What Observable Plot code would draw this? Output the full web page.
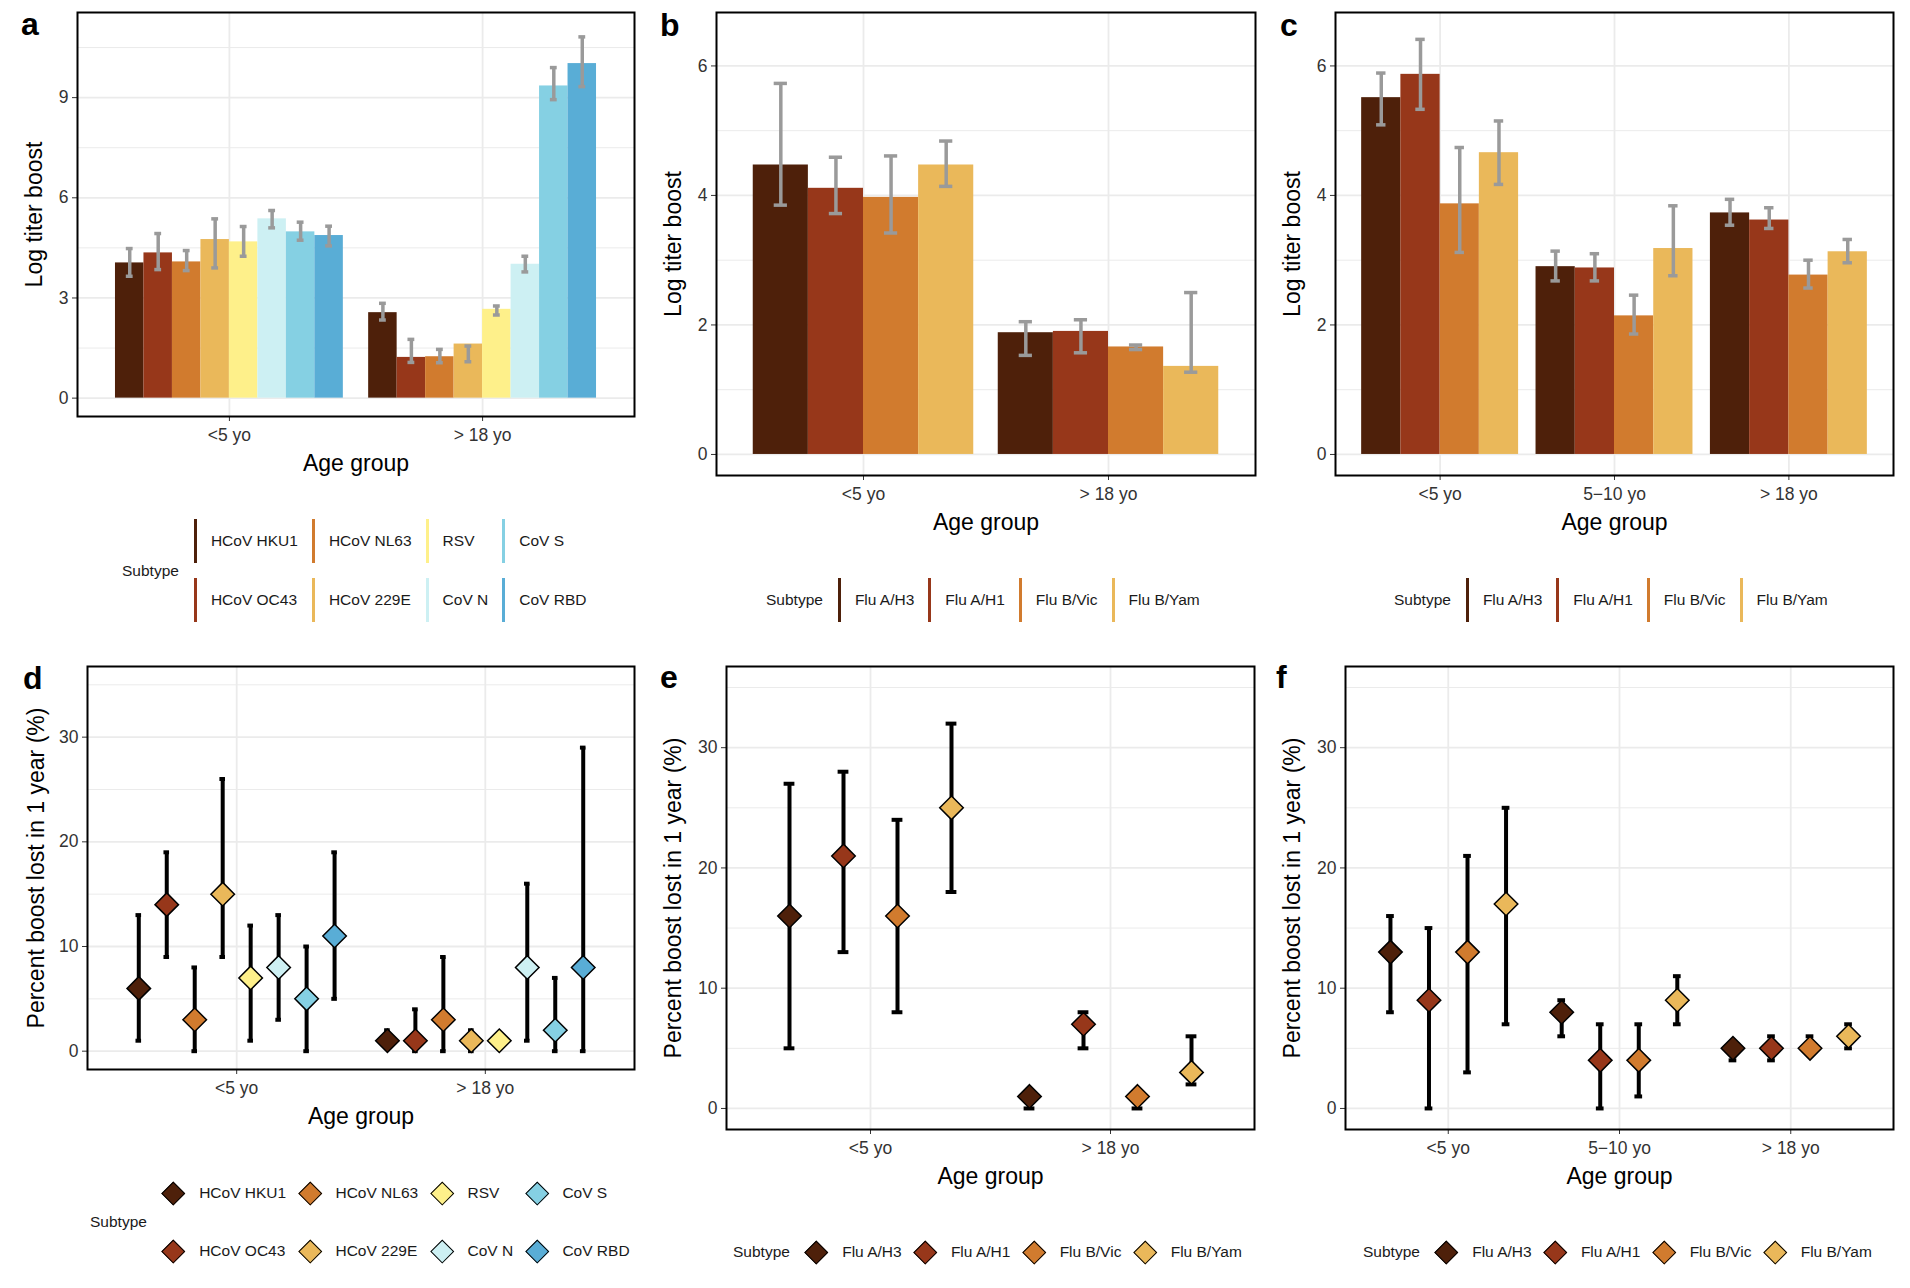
<!DOCTYPE html>
<html><head><meta charset="utf-8">
<script src="https://cdn.jsdelivr.net/npm/d3@7"></script>
<script src="https://cdn.jsdelivr.net/npm/@observablehq/plot@0.6"></script>
<style>
html,body{margin:0;padding:0;background:#fff;}
#root{position:relative;width:1910px;height:1288px;background:#fff;font-family:"Liberation Sans",Arial,Helvetica,sans-serif;color:#000;overflow:hidden;}
.pl{position:absolute;}
.letter{position:absolute;font-weight:bold;font-size:32px;line-height:1;}
.legend{position:absolute;display:flex;align-items:center;font-size:15.5px;color:#1a1a1a;white-space:nowrap;}
.legend .ttl{margin-right:15px;}
.legend .grid{display:grid;grid-auto-flow:column;}
.legend .item{display:flex;align-items:center;height:44px;}
.legend .line{width:3px;height:44px;}
.legend .dia{width:16.5px;height:16.5px;transform:rotate(45deg);border:1.5px solid #000;box-sizing:border-box;margin:0 3.4px;}
</style></head><body><div id="root"></div>
<script>
// ---------- categories ----------
const ageTwo = ["<5 yo", "> 18 yo"];
const ageThree = ["<5 yo", "5\u221210 yo", "> 18 yo"];
const covSubtypes = ["HCoV HKU1", "HCoV OC43", "HCoV NL63", "HCoV 229E", "RSV", "CoV N", "CoV S", "CoV RBD"];
const covColors = ["#4E200A", "#97371A", "#D17B2E", "#EAB85A", "#FEF08A", "#CDF0F3", "#85D0E3", "#59ADD6"];
const fluSubtypes = ["Flu A/H3", "Flu A/H1", "Flu B/Vic", "Flu B/Yam"];
const fluColors = ["#4E200A", "#97371A", "#D17B2E", "#EAB85A"];

// ---------- panel a: log titer boost, coronaviruses/RSV (age group x subtype) ----------
const aMean = [4.05, 4.35, 4.08, 4.75, 4.68, 5.37, 4.98, 4.87,  2.56, 1.22, 1.24, 1.62, 2.66, 4.01, 9.35, 10.02];
const aLow  = [3.65, 3.85, 3.82, 3.90, 4.25, 5.10, 4.73, 4.56,  2.34, 1.07, 1.06, 1.09, 2.49, 3.78, 8.94, 9.33];
const aHigh = [4.48, 4.93, 4.42, 5.37, 5.14, 5.62, 5.27, 5.15,  2.84, 1.76, 1.46, 1.56, 2.76, 4.25, 9.90, 10.82];
// ---------- panel b: log titer boost, influenza ----------
const bMean = [4.47, 4.11, 3.97, 4.47,  1.88, 1.90, 1.66, 1.36];
const bLow  = [3.85, 3.72, 3.42, 4.14,  1.53, 1.57, 1.62, 1.27];
const bHigh = [5.73, 4.59, 4.61, 4.84,  2.05, 2.08, 1.69, 2.50];
// ---------- panel c: log titer boost, influenza, three age groups ----------
const cMean = [5.51, 5.87, 3.87, 4.66,  2.90, 2.88, 2.14, 3.18,  3.73, 3.62, 2.77, 3.13];
const cLow  = [5.09, 5.33, 3.12, 4.17,  2.68, 2.68, 1.86, 2.76,  3.54, 3.49, 2.57, 2.96];
const cHigh = [5.89, 6.41, 4.74, 5.15,  3.14, 3.10, 2.46, 3.84,  3.94, 3.81, 3.00, 3.32];
// ---------- panel d: percent boost lost in 1 year, coronaviruses/RSV ----------
const dMean = [6, 14, 3, 15, 7, 8, 5, 11,  1, 1, 3, 1, 1, 8, 2, 8];
const dLow  = [1, 9, 0, 9, 1, 3, 0, 5,  1, 0, 0, 0, 1, 1, 0, 0];
const dHigh = [13, 19, 8, 26, 12, 13, 10, 19,  2, 4, 9, 2, 1, 16, 7, 29];
// ---------- panel e: percent boost lost, influenza ----------
const eMean = [16, 21, 16, 25,  1, 7, 1, 3];
const eLow  = [5, 13, 8, 18,  0, 5, 0, 2];
const eHigh = [27, 28, 24, 32,  1, 8, 1, 6];
// ---------- panel f: percent boost lost, influenza, three age groups ----------
const fMean = [13, 9, 13, 17,  8, 4, 4, 9,  5, 5, 5, 6];
const fLow  = [8, 0, 3, 7,  6, 0, 1, 7,  4, 4, 5, 5];
const fHigh = [16, 15, 21, 25,  9, 7, 7, 11,  5, 6, 6, 7];

// ---------- axis tick values ----------
const titerTicksA = [0, 3, 6, 9];
const titerMinorA = [1.5, 4.5, 7.5, 10.5];
const titerTicksBC = [0, 2, 4, 6];
const titerMinorBC = [1, 3, 5];
const lostTicks = [0, 10, 20, 30];
const lostMinor = [5, 15, 25, 35];

const FONT = '"Liberation Sans", Arial, Helvetica, sans-serif';
const root = document.getElementById("root");

// dodge like ggplot position_dodge(width = 0.9)
function rows(groups, subtypes, mean, lo, hi) {
  const k = subtypes.length, step = 0.9 / k;
  return mean.map((m, i) => {
    const g = Math.floor(i / k), s = i % k;
    return {group: groups[g], subtype: subtypes[s], pos: g + 1 - 0.45 + step * (s + 0.5), step, mean: m, lo: lo[i], hi: hi[i]};
  });
}

const diamond = {
  draw(ctx, size) {
    const r = Math.sqrt(size / Math.PI) * 1.11;
    ctx.moveTo(0, -r); ctx.lineTo(r, 0); ctx.lineTo(0, r); ctx.lineTo(-r, 0); ctx.closePath();
  }
};

function panel(cfg) {
  const [sx0, sy0, sx1, sy1] = cfg.box;
  const [fl, ft, fr, fb] = cfg.frame;
  const data = rows(cfg.groups, cfg.subtypes, cfg.mean, cfg.lo, cfg.hi);
  const n = cfg.groups.length;
  const centers = d3.range(1, n + 1);
  const grid = "#EBEBEB";
  const marks = [
    Plot.gridY(cfg.minor, {stroke: grid, strokeOpacity: 1, strokeWidth: 1}),
    Plot.gridY(cfg.major, {stroke: grid, strokeOpacity: 1, strokeWidth: 1.8}),
    Plot.gridX(centers, {stroke: grid, strokeOpacity: 1, strokeWidth: 1.8})
  ];
  if (cfg.kind === "bar") {
    const ec = "#9A9A9A", ew = 3.5, cap = 0.12;
    marks.push(
      Plot.rectY(data, {x1: d => d.pos - d.step / 2, x2: d => d.pos + d.step / 2, y1: 0, y2: "mean", fill: "subtype"}),
      Plot.ruleX(data, {x: "pos", y1: "lo", y2: "hi", stroke: ec, strokeWidth: ew}),
      Plot.ruleY(data, {y: "lo", x1: d => d.pos - d.step * cap, x2: d => d.pos + d.step * cap, stroke: ec, strokeWidth: ew}),
      Plot.ruleY(data, {y: "hi", x1: d => d.pos - d.step * cap, x2: d => d.pos + d.step * cap, stroke: ec, strokeWidth: ew})
    );
  } else {
    const ec = "#000", ew = 4, cap = 0.1;
    marks.push(
      Plot.ruleX(data, {x: "pos", y1: "lo", y2: "hi", stroke: ec, strokeWidth: ew}),
      Plot.ruleY(data, {y: "lo", x1: d => d.pos - d.step * cap, x2: d => d.pos + d.step * cap, stroke: ec, strokeWidth: ew}),
      Plot.ruleY(data, {y: "hi", x1: d => d.pos - d.step * cap, x2: d => d.pos + d.step * cap, stroke: ec, strokeWidth: ew}),
      Plot.dot(data, {x: "pos", y: "mean", fill: "subtype", stroke: "#000", strokeWidth: 1.5, r: 10.6, symbol: diamond})
    );
  }
  marks.push(
    Plot.axisX(centers, {tickFormat: d => cfg.groups[d - 1], tickSize: 5, tickPadding: 7, fontSize: 17.5, color: "#333", label: null}),
    Plot.axisY(cfg.major, {tickFormat: d => String(d), tickSize: 5, tickPadding: 4, fontSize: 17.5, color: "#333", label: null}),
    Plot.frame({stroke: "#000", strokeWidth: 2}),
    Plot.text([cfg.ylabel], {text: d => d, frameAnchor: "left", textAnchor: "middle", lineAnchor: "middle", dx: cfg.ydx, rotate: -90, fontSize: 23, fill: "#000"}),
    Plot.text(["Age group"], {text: d => d, frameAnchor: "bottom", textAnchor: "middle", lineAnchor: "middle", dy: 47, fontSize: 23, fill: "#000"})
  );
  const svg = Plot.plot({
    width: sx1 - sx0, height: sy1 - sy0,
    marginLeft: fl - sx0, marginRight: sx1 - fr, marginTop: ft - sy0, marginBottom: sy1 - fb,
    x: {type: "linear", domain: [0.4, n + 0.6]},
    y: {domain: cfg.ydomain},
    color: {domain: cfg.subtypes, range: cfg.colors},
    style: {background: "transparent", overflow: "visible", fontFamily: FONT},
    marks
  });
  svg.classList.add("pl");
  svg.style.left = sx0 + "px";
  svg.style.top = sy0 + "px";
  svg.style.maxWidth = "none";
  root.appendChild(svg);
}

function letter(ch, x, baseline) {
  const el = document.createElement("div");
  el.className = "letter";
  el.textContent = ch;
  el.style.left = x + "px";
  el.style.top = (baseline - 27) + "px";
  root.appendChild(el);
}

function legend(cfg) {
  const el = document.createElement("div");
  el.className = "legend";
  el.style.left = cfg.left + "px";
  el.style.top = cfg.top + "px";
  const t = document.createElement("div");
  t.className = "ttl";
  t.textContent = "Subtype";
  el.appendChild(t);
  const g = document.createElement("div");
  g.className = "grid";
  g.style.gridTemplateRows = `repeat(${cfg.rows}, 44px)`;
  g.style.rowGap = cfg.rowGap + "px";
  cfg.subtypes.forEach((s, i) => {
    const it = document.createElement("div");
    it.className = "item";
    it.style.paddingRight = (cfg.kind === "line" ? 14 : 12) + "px";
    const k = document.createElement("div");
    k.className = cfg.kind === "line" ? "line" : "dia";
    k.style.background = cfg.colors[i];
    const tx = document.createElement("span");
    tx.textContent = s;
    tx.style.marginLeft = "14px";
    it.appendChild(k); it.appendChild(tx);
    g.appendChild(it);
  });
  el.appendChild(g);
  root.appendChild(el);
}

const titerLabel = "Log titer boost";
const lostLabel = "Percent boost lost in 1 year (%)";

panel({kind: "bar", box: [0, 0, 645, 500], frame: [77, 12, 634, 416], groups: ageTwo, subtypes: covSubtypes, colors: covColors,
  mean: aMean, lo: aLow, hi: aHigh, ydomain: [-0.55, 11.55], major: titerTicksA, minor: titerMinorA, ylabel: titerLabel, ydx: -43});
panel({kind: "bar", box: [645, 0, 1272, 540], frame: [716, 12, 1255, 475], groups: ageTwo, subtypes: fluSubtypes, colors: fluColors,
  mean: bMean, lo: bLow, hi: bHigh, ydomain: [-0.325, 6.825], major: titerTicksBC, minor: titerMinorBC, ylabel: titerLabel, ydx: -43});
panel({kind: "bar", box: [1272, 0, 1910, 540], frame: [1335, 12, 1893, 475], groups: ageThree, subtypes: fluSubtypes, colors: fluColors,
  mean: cMean, lo: cLow, hi: cHigh, ydomain: [-0.325, 6.825], major: titerTicksBC, minor: titerMinorBC, ylabel: titerLabel, ydx: -43});
panel({kind: "point", box: [0, 640, 645, 1150], frame: [87, 666, 634, 1069], groups: ageTwo, subtypes: covSubtypes, colors: covColors,
  mean: dMean, lo: dLow, hi: dHigh, ydomain: [-1.75, 36.75], major: lostTicks, minor: lostMinor, ylabel: lostLabel, ydx: -51});
panel({kind: "point", box: [645, 640, 1272, 1200], frame: [726, 666, 1254, 1129], groups: ageTwo, subtypes: fluSubtypes, colors: fluColors,
  mean: eMean, lo: eLow, hi: eHigh, ydomain: [-1.75, 36.75], major: lostTicks, minor: lostMinor, ylabel: lostLabel, ydx: -53});
panel({kind: "point", box: [1272, 640, 1910, 1200], frame: [1345, 666, 1893, 1129], groups: ageThree, subtypes: fluSubtypes, colors: fluColors,
  mean: fMean, lo: fLow, hi: fHigh, ydomain: [-1.75, 36.75], major: lostTicks, minor: lostMinor, ylabel: lostLabel, ydx: -53});

legend({left: 122, top: 519, rows: 2, rowGap: 15, kind: "line", subtypes: covSubtypes, colors: covColors});
legend({left: 766, top: 578, rows: 1, rowGap: 0, kind: "line", subtypes: fluSubtypes, colors: fluColors});
legend({left: 1394, top: 578, rows: 1, rowGap: 0, kind: "line", subtypes: fluSubtypes, colors: fluColors});
legend({left: 90, top: 1171, rows: 2, rowGap: 14, kind: "dia", subtypes: covSubtypes, colors: covColors});
legend({left: 733, top: 1230, rows: 1, rowGap: 0, kind: "dia", subtypes: fluSubtypes, colors: fluColors});
legend({left: 1363, top: 1230, rows: 1, rowGap: 0, kind: "dia", subtypes: fluSubtypes, colors: fluColors});

letter("a", 21, 35); letter("b", 660, 36); letter("c", 1280, 36);
letter("d", 23, 689); letter("e", 660, 688); letter("f", 1276, 688);
</script></body></html>
